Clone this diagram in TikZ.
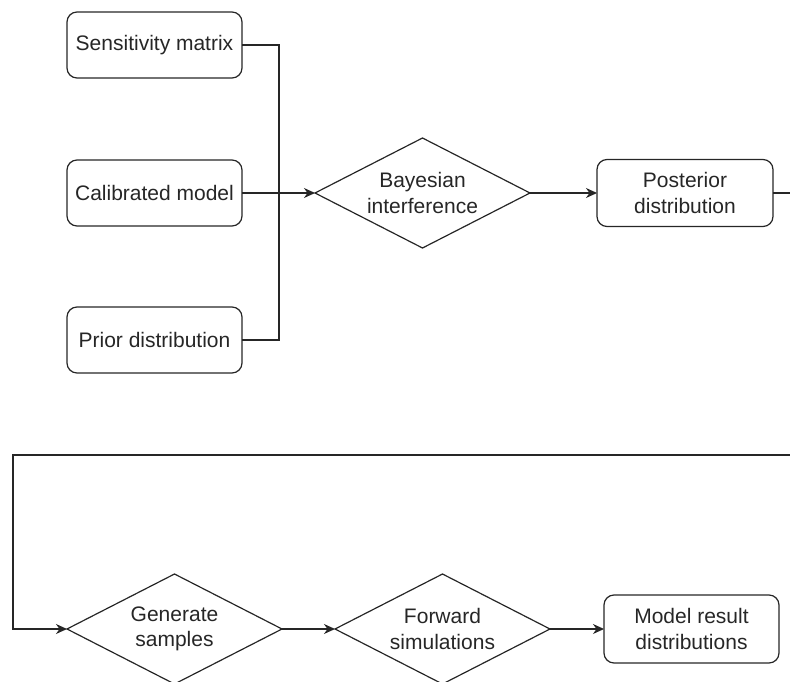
\documentclass[tikz,border=0pt]{standalone}
\usepackage{fontspec}
\setmainfont{Liberation Sans}
\usetikzlibrary{shapes.geometric,arrows.meta}
\begin{document}
\begin{tikzpicture}[x=1pt,y=-1pt,
  every node/.style={font=\fontsize{21}{25.5}\selectfont, align=center, text=black!85},
  rbox/.style={draw=black!85, rounded corners=10pt, line width=1.2pt, minimum width=175pt, minimum height=66pt, inner sep=0pt, outer sep=0pt},
  dia/.style={draw=black!85, diamond, aspect=1.95, line width=1.2pt, minimum width=215pt, minimum height=110pt, inner sep=0pt, outer sep=0pt},
  conn/.style={line width=1.2pt, draw=black!85},
  arr/.style={conn, -{Stealth[length=11pt,width=10pt,inset=3.5pt]}}]
\useasboundingbox (0,0) rectangle (790,682);
\clip (0,0) rectangle (790,682);
\node[rbox] (sens) at (154.5,45) {Sensitivity matrix};
\node[rbox] (cal) at (154.5,193) {Calibrated model};
\node[rbox] (prior) at (154.5,340) {Prior distribution};
\node[dia] (bayes) at (422.5,193) {Bayesian\\interference};
\node[rbox, minimum width=176pt, minimum height=67pt] (post) at (685,193) {Posterior\\distribution};
\node[dia] (gen) at (174.5,629) {Generate\\samples};
\node[dia] (fwd) at (442.5,629) {Forward\\simulations};
\node[rbox, minimum height=68pt] (model) at (691.5,629) {Model result\\distributions};
\coordinate (join) at (279,193);
\coordinate (r1) at (805,193);
\coordinate (r2) at (805,455);
\coordinate (l1) at (13,455);
\draw[conn] (sens.east) -| (join);
\draw[conn] (prior.east) -| (join);
\draw[arr] (cal.east) -- (bayes.west);
\draw[arr] (bayes.east) -- (post.west);
\draw[arr] (post.east) -- (r1) -- (r2) -- (l1) |- (gen.west);
\draw[arr] (gen.east) -- (fwd.west);
\draw[arr] (fwd.east) -- (model.west);
\end{tikzpicture}
\end{document}
